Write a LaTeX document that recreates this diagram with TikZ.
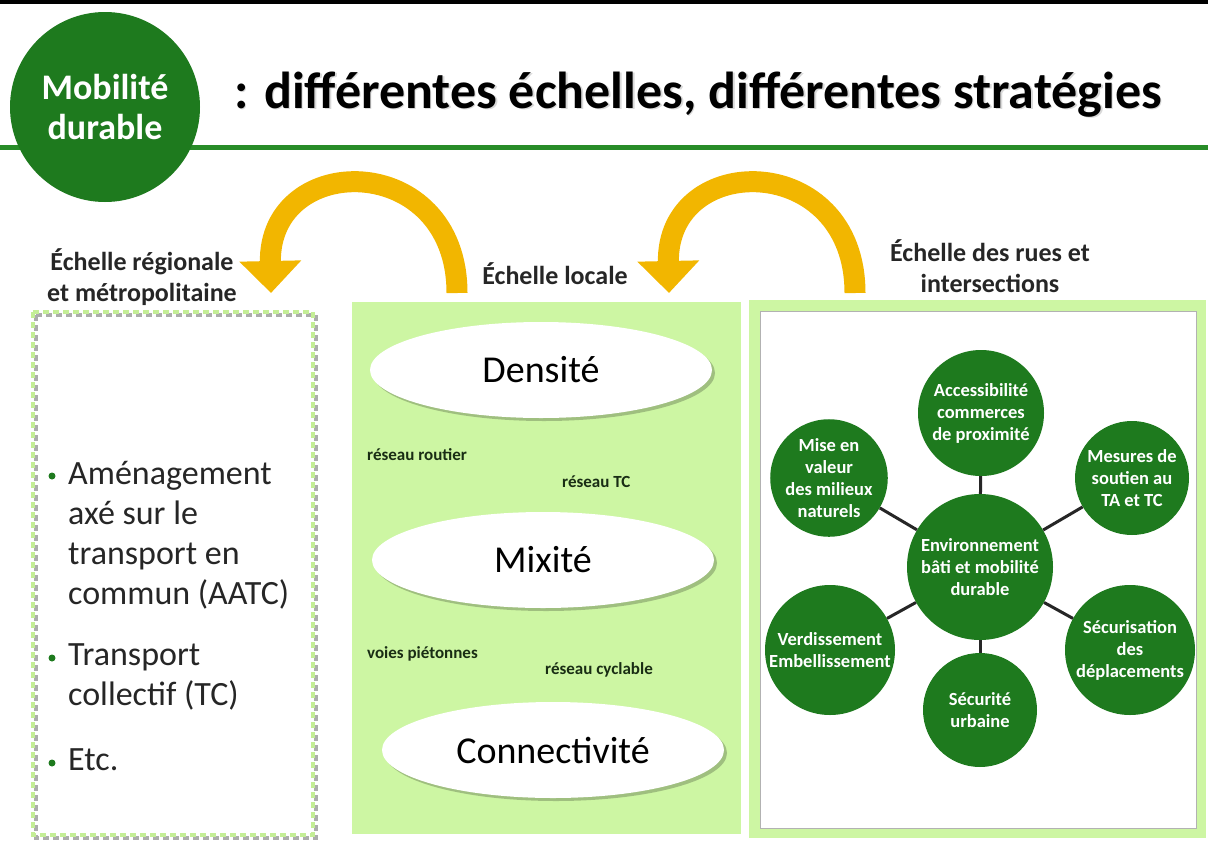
\documentclass[tikz,border=0pt]{standalone}
\usepackage{fontspec}
\setmainfont{Carlito}
\usetikzlibrary{shapes.geometric,positioning,arrows.meta,calc,shadows}

\definecolor{darkgreen}{RGB}{30,122,30}
\definecolor{rulegreen}{RGB}{40,140,40}
\definecolor{palegreen}{RGB}{205,246,163}
\definecolor{dashgreen}{RGB}{196,238,150}
\definecolor{arrowgold}{RGB}{242,182,0}
\definecolor{labelgreen}{RGB}{25,45,20}

\tikzset{
  badge/.style={circle,fill=darkgreen,text=white,minimum size=190,inner sep=0,align=center,
    font=\fontsize{36}{40}\selectfont\bfseries},
  headline/.style={inner sep=0,font=\fontsize{52}{56}\selectfont\bfseries},
  scalelabel/.style={align=center,inner sep=0,text=black!85,font=\fontsize{26}{31}\selectfont\bfseries},
  bulletitem/.style={anchor=north west,align=left,inner sep=0,text=black!85,font=\fontsize{34}{40}\selectfont},
  bubble/.style={ellipse,fill=white,minimum width=342,minimum height=96,inner sep=0,
    drop shadow={shadow xshift=3pt,shadow yshift=-3pt,fill=black,opacity=0.22},
    font=\fontsize{38}{44}\selectfont},
  netlabel/.style={anchor=base west,inner sep=0,text=labelgreen,font=\fontsize{17}{20}\selectfont\bfseries},
  hub/.style={circle,fill=darkgreen,text=white,inner sep=0,align=center,
    font=\fontsize{18.5}{22}\selectfont\bfseries},
  spoke/.style={line width=3,black!85},
  bigarrow/.style={arrowgold,line width=21,-{Triangle[length=32pt,width=60pt]}},
}

\begin{document}
\begin{tikzpicture}[x=1pt,y=-1pt]
\useasboundingbox (0,0) rectangle (1208,844);

% header band
\fill[black] (0,0) rectangle (1208,4);
\draw[rulegreen,line width=5] (0,147) -- (1208,147);
\node[badge] (badge) at (105,107) {Mobilité\\durable};
\node[headline,text=black!15,anchor=base west] at (235.5,109.5) {: différentes échelles, différentes stratégies};
\node[headline,anchor=base west] (title) at (234,108) {: différentes échelles, différentes stratégies};

% curved arrows between the scales
\foreach \dx in {0,398}
  \draw[bigarrow,xshift=\dx] (457,293) .. controls (457,150) and (268,150) .. (271,293);

\node[scalelabel] (regional) at (142,277) {Échelle régionale\\et métropolitaine};
\node[scalelabel,anchor=base] (local) at (555,284) {Échelle locale};
\node[scalelabel] (streets) at (990,266) {Échelle des rues et\\intersections};

% regional box
\draw[gray!65,line width=4,dash pattern=on 6pt off 4pt] (36,315) rectangle (316,838);
\draw[dashgreen,line width=4,dash pattern=on 6pt off 4pt] (33,312) rectangle (313,835);
\node[bulletitem] (aatc) at (68,461) {Aménagement\\axé sur le\\transport en\\commun (AATC)};
\node[bulletitem] (tc) at (68,643) {Transport\\collectif (TC)};
\node[bulletitem] (etc) at (68,748) {Etc.};
\foreach \item in {aatc,tc,etc}
  \fill[darkgreen] ($(\item.north west)+(-16,15)$) circle (3.5);

% local box
\fill[palegreen] (352,302) rectangle (741,834);
\node[bubble] (density) at (541,370) {Densité};
\node[bubble] (mix) at (543,560) {Mixité};
\node[bubble] (connect) at (553,750) {Connectivité};
\node[netlabel] (roads) at (367,460) {réseau routier};
\node[netlabel] (transit) at (562,487) {réseau TC};
\node[netlabel] (walk) at (367,658) {voies piétonnes};
\node[netlabel] (bike) at (545,674) {réseau cyclable};

% streets box
\fill[palegreen] (749,300) rectangle (1206,838);
\draw[fill=white,draw=gray!60,line width=0.8] (760,311) rectangle (1196,828);
\node[hub,minimum size=146] (env) at (980,567) {Environnement\\bâti et mobilité\\durable};
\node[hub,minimum size=126] (access) at (981,413) {Accessibilité\\commerces\\de proximité};
\node[hub,minimum size=114] (nature) at (829,478) {Mise en\\valeur\\des milieux\\naturels};
\node[hub,minimum size=114] (support) at (1132,478) {Mesures de\\soutien au\\TA et TC};
\node[hub,minimum size=130] (green) at (830,650) {Verdissement\\Embellissement};
\node[hub,minimum size=114] (safety) at (980,710) {Sécurité\\urbaine};
\node[hub,minimum size=130] (trips) at (1130,650) {Sécurisation\\des\\déplacements};
\foreach \n in {access,nature,support,green,safety,trips}
  \draw[spoke] (env) -- (\n);
\end{tikzpicture}
\end{document}
